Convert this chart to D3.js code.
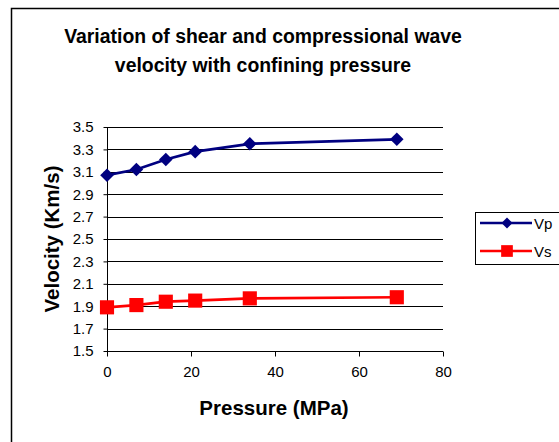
<!DOCTYPE html>
<html><head><meta charset="utf-8">
<script src="https://cdn.jsdelivr.net/npm/d3@7"></script>
<style>body{margin:0;background:#fff}svg{display:block}text{font-family:Arial,"Liberation Sans",sans-serif}</style>
</head><body>
<svg id="c" width="559" height="442"></svg>
<script>
const pressure = [0, 7, 14, 21, 34, 69];
const vp = [3.07, 3.12, 3.21, 3.28, 3.35, 3.39];
const vs = [1.89, 1.91, 1.94, 1.95, 1.97, 1.98];
const xTicks = [0, 20, 40, 60, 80];
const yTicks = [1.5, 1.7, 1.9, 2.1, 2.3, 2.5, 2.7, 2.9, 3.1, 3.3, 3.5];
const seriesNames = ["Vp", "Vs"];
const seriesColors = ["#000080", "#ff0000"];

const svg = d3.select("#c");
// outer border (left and top)
svg.append("path").attr("d","M11.5,442V8.5H559").attr("fill","none").attr("stroke","#000").attr("stroke-width",1.5);

const x = d3.scaleLinear().domain([0,80]).range([107,443]);
const y = d3.scaleLinear().domain([1.5,3.5]).range([351,127]);

// gridlines
svg.append("g").selectAll("line").data(yTicks.filter(d=>d>1.5)).join("line")
  .attr("x1",107).attr("x2",443).attr("y1",d=>Math.round(y(d))+0.5).attr("y2",d=>Math.round(y(d))+0.5)
  .attr("stroke","#000").attr("stroke-width",1);

// axes
const yAxis = d3.axisLeft(y).tickValues(yTicks).tickFormat(d3.format(".1f")).tickSize(4).tickPadding(10);
const gy = svg.append("g").attr("transform","translate(107.5,0)").call(yAxis);
const xAxis = d3.axisBottom(x).tickValues(xTicks).tickFormat(d3.format("d")).tickSize(5).tickPadding(10);
const gx = svg.append("g").attr("transform","translate(0,351.5)").call(xAxis);
[gx,gy].forEach(g=>{
  g.select(".domain").attr("stroke","#000");
  g.selectAll("line").attr("stroke","#000");
  g.selectAll("text").attr("font-size",15).attr("fill","#000").attr("font-family","Arial, 'Liberation Sans', sans-serif");
});
gx.select(".domain").attr("d","M107,0H443");
gy.select(".domain").attr("d","M0,127V351");

// series
const data = [vp, vs];
const line = d3.line().x((d,i)=>x(pressure[i])).y(d=>y(d));
data.forEach((vals,k)=>{
  svg.append("path").datum(vals).attr("d",line).attr("fill","none")
    .attr("stroke",seriesColors[k]).attr("stroke-width",2.7);
  svg.append("g").selectAll("path").data(vals).join("path")
    .attr("transform",(d,i)=>`translate(${x(pressure[i])},${y(d)})`+(k===0?" rotate(45)":""))
    .attr("d", k===0 ? d3.symbol(d3.symbolSquare, 92)() : d3.symbol(d3.symbolSquare, 200)())
    .attr("fill",seriesColors[k]);
});

// title
const title = svg.append("text").attr("text-anchor","middle").attr("font-weight","bold").attr("font-size",19.4);
title.append("tspan").attr("x",263).attr("y",43).text("Variation of shear and compressional wave");
title.append("tspan").attr("x",263).attr("y",72).text("velocity with confining pressure");

// axis titles
svg.append("text").attr("x",274).attr("y",415).attr("text-anchor","middle").attr("font-weight","bold")
  .attr("font-size",20.5).text("Pressure (MPa)");
svg.append("text").attr("transform","translate(59,239) rotate(-90)").attr("text-anchor","middle")
  .attr("font-weight","bold").attr("font-size",20.5).text("Velocity (Km/s)");

// legend
const lg = svg.append("g");
lg.append("rect").attr("x",475.5).attr("y",212.5).attr("width",90).attr("height",52)
  .attr("fill","#fff").attr("stroke","#000").attr("stroke-width",1);
seriesNames.forEach((n,k)=>{
  const yy = k===0 ? 223 : 251;
  lg.append("line").attr("x1",480).attr("x2",532).attr("y1",yy).attr("y2",yy)
    .attr("stroke",seriesColors[k]).attr("stroke-width",2.5);
  lg.append("path").attr("transform",`translate(507,${yy})`+(k===0?" rotate(45)":""))
    .attr("d", d3.symbol(d3.symbolSquare, k===0?61:137)()).attr("fill",seriesColors[k]);
  lg.append("text").attr("x",534).attr("y",yy+5.5).attr("font-size",15).text(n);
});
</script>
</body></html>
